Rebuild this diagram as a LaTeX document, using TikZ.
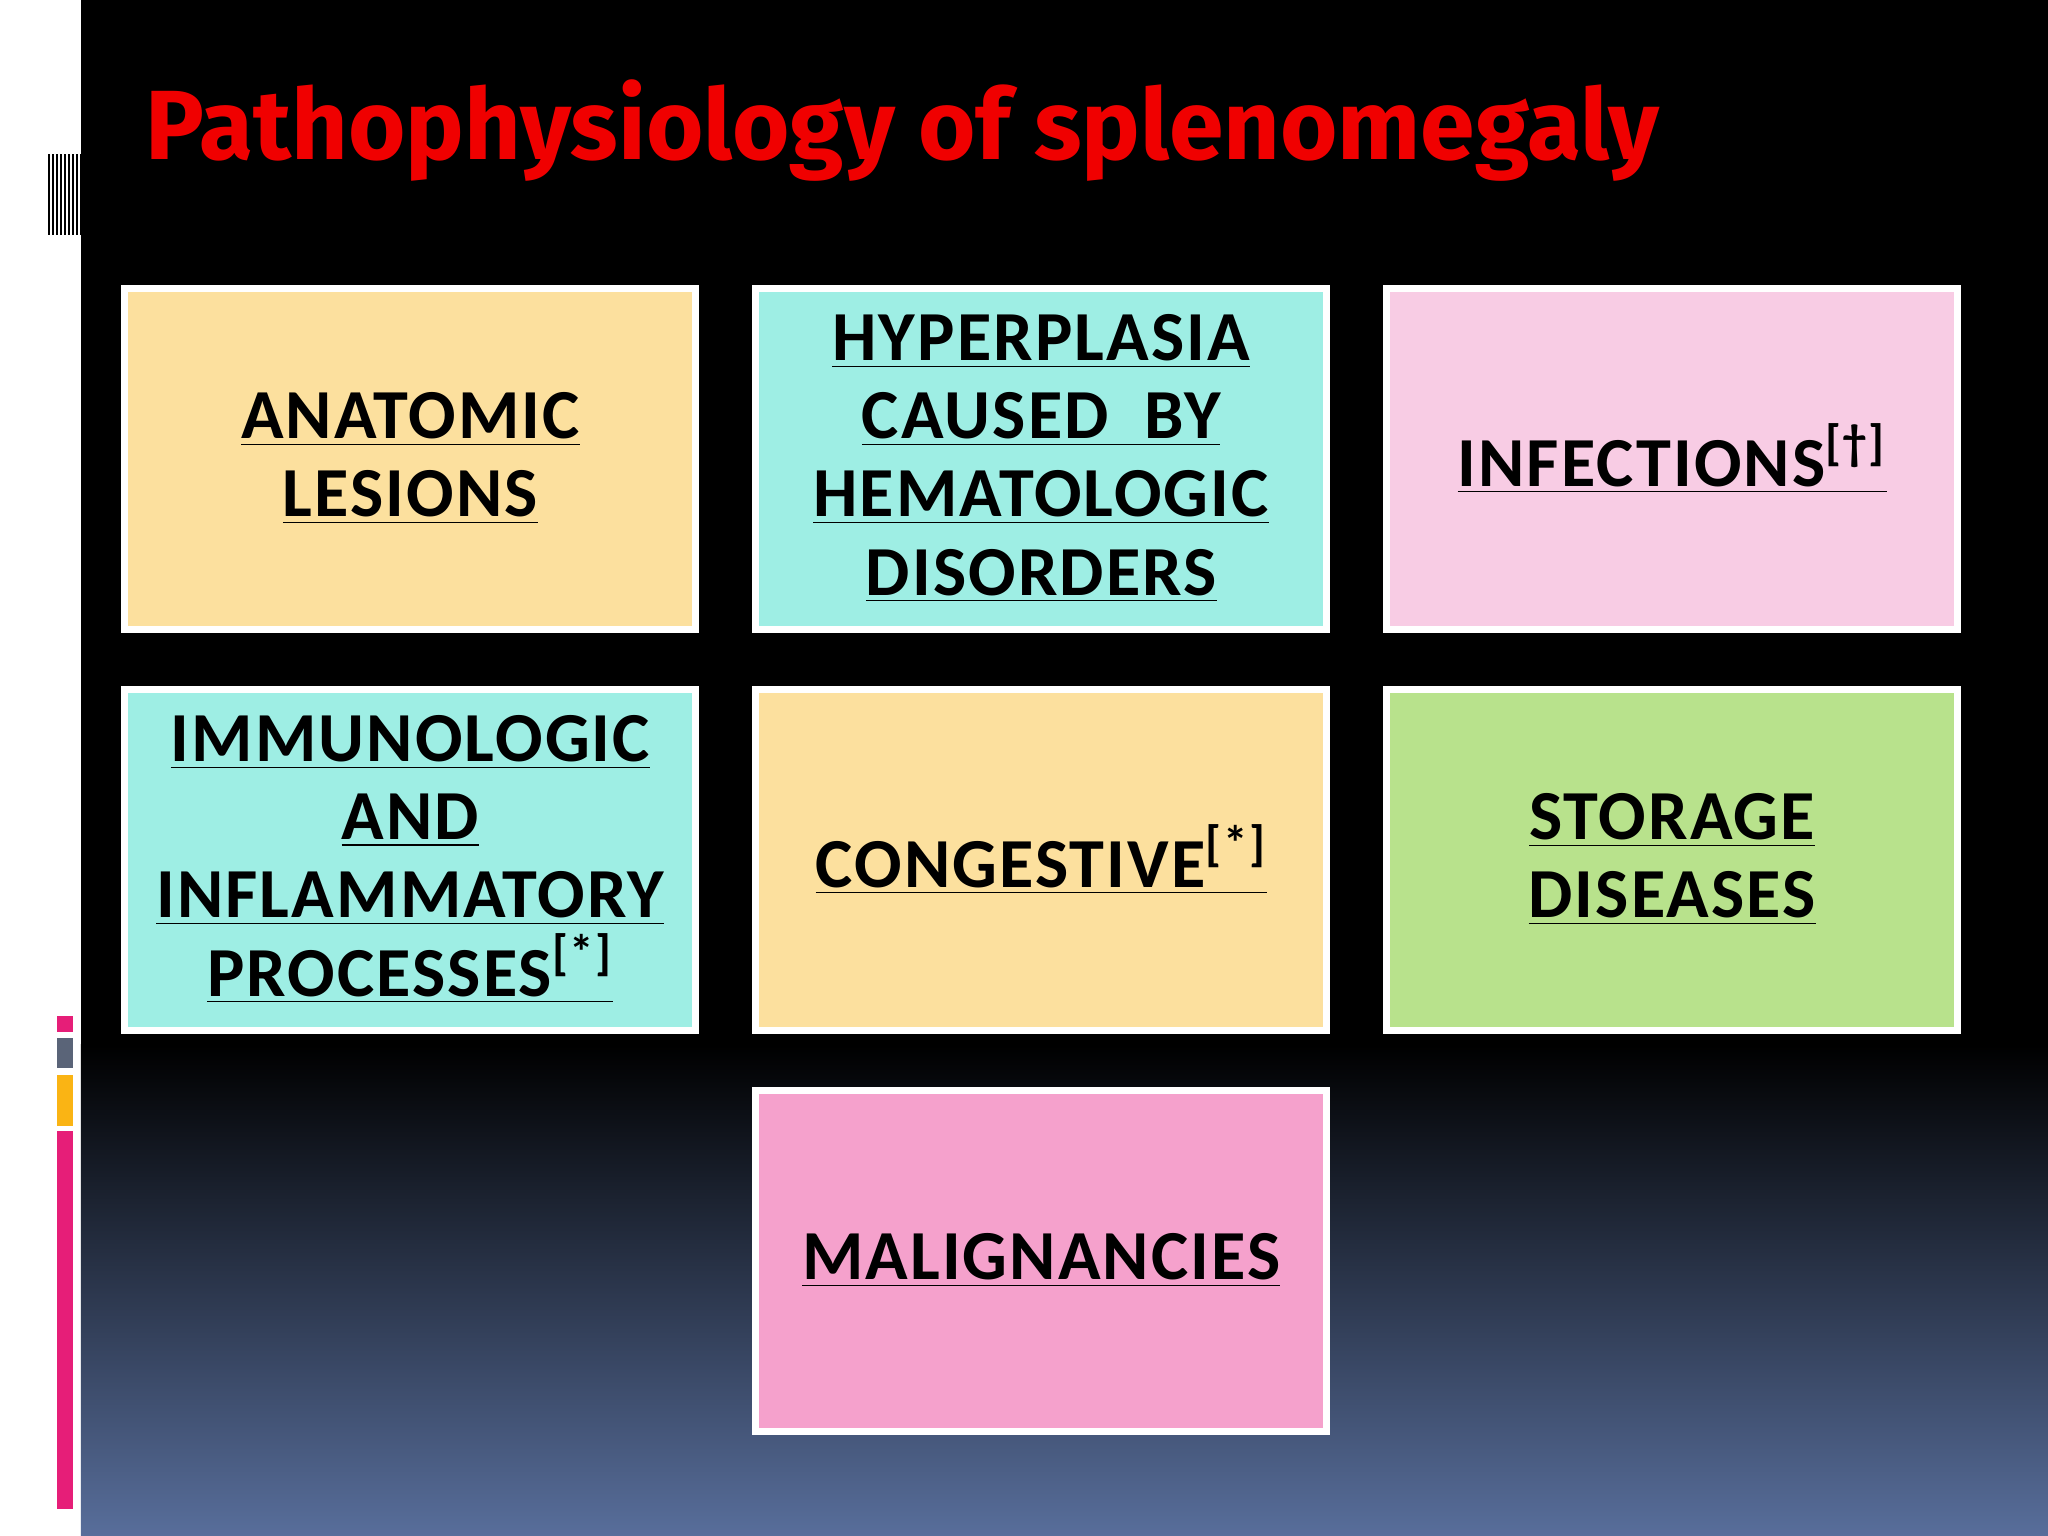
\documentclass[tikz,border=0pt]{standalone}
\usepackage{fontspec}
\setmainfont{Carlito}[LetterSpace=3]
\newfontfamily\titlefont{Fira Sans}
\definecolor{peach}{RGB}{252,224,158}
\definecolor{cyan2}{RGB}{158,238,228}
\definecolor{pinkl}{RGB}{248,204,228}
\definecolor{green2}{RGB}{184,226,140}
\definecolor{pink2}{RGB}{245,161,204}
\definecolor{mag}{RGB}{230,30,120}
\definecolor{slate}{RGB}{90,100,120}
\definecolor{amber}{RGB}{250,180,20}
\definecolor{bluegray}{RGB}{88,110,155}
\definecolor{titlered}{RGB}{240,0,0}
\begin{document}
\begin{tikzpicture}[x=0.01306cm,y=-0.01306cm,
 box/.style={draw=white,line width=2pt,minimum width=437*0.01306cm,minimum height=261*0.01306cm,align=center,anchor=north west,font=\fontsize{20}{22.2}\selectfont\bfseries,text=black}]
\useasboundingbox (0,0) rectangle (1568,1176);
\fill[white] (0,0) rectangle (62,1176);
\fill[black] (62,0) rectangle (1568,800);
\shade[top color=black,bottom color=bluegray] (62,800) rectangle (1568,1176);
\foreach \x in {37,40,43,46,49,52,55,58,61}{\fill[black] (\x,118) rectangle (\x+1.6,180);}
\fill[mag] (44,778) rectangle (56,790);
\fill[slate] (44,795) rectangle (56,818);
\fill[amber] (44,823) rectangle (56,862);
\fill[mag] (44,866) rectangle (56,1155);
\node[anchor=west,text=titlered,font=\titlefont\fontsize{28}{32}\selectfont\bfseries] (title) at (102,100) {Pathophysiology of splenomegaly};
\node[box,fill=peach] (a) at (93,218) {\underline{ANATOMIC}\\\underline{LESIONS}};
\node[box,fill=cyan2] (b) at (576,218) {\underline{HYPERPLASIA}\\\underline{CAUSED\ \ BY}\\\underline{HEMATOLOGIC}\\\underline{DISORDERS}};
\node[box,fill=pinkl] (c) at (1059,218) {\underline{INFECTIONS\textsuperscript{[†]}}};
\node[box,fill=cyan2] (d) at (93,525) {\underline{IMMUNOLOGIC}\\\underline{AND}\\\underline{INFLAMMATORY}\\\underline{PROCESSES\textsuperscript{[*]}}};
\node[box,fill=peach] (e) at (576,525) {\underline{CONGESTIVE\textsuperscript{[*]}}};
\node[box,fill=green2] (f) at (1059,525) {\underline{STORAGE}\\\underline{DISEASES}};
\node[box,fill=pink2] (g) at (576,832) {\underline{MALIGNANCIES}};
\end{tikzpicture}
\end{document}
